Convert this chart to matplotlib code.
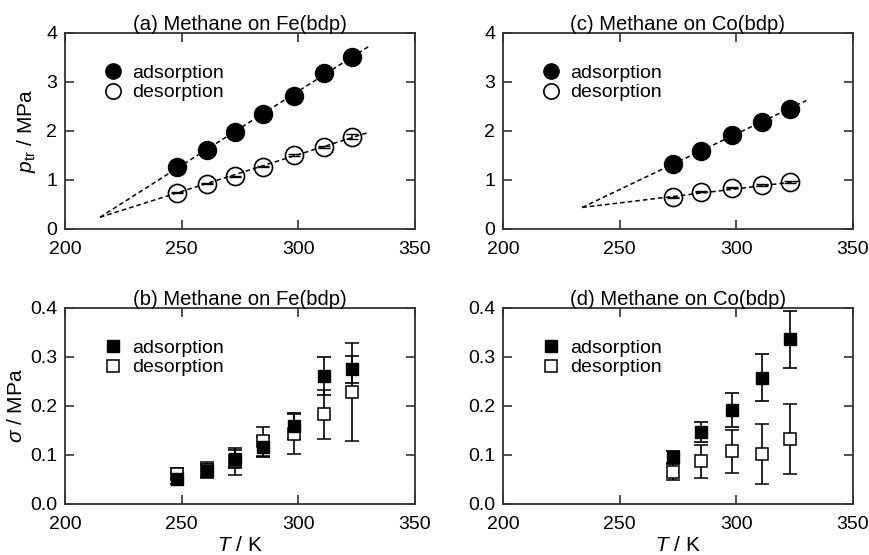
import matplotlib
matplotlib.use("Agg")
import matplotlib.pyplot as plt

plt.rcParams['font.family'] = ['Liberation Sans', 'DejaVu Sans']
plt.rcParams['mathtext.fontset'] = 'custom'
plt.rcParams['mathtext.rm'] = 'Liberation Sans'
plt.rcParams['mathtext.it'] = 'Liberation Sans:italic'
plt.rcParams['font.size'] = 14

# temperatures (K)
T_fe = [248, 261, 273, 285, 298, 311, 323]
T_co = [273, 285, 298, 311, 323]

# transition pressures (MPa)
p_fe_ads = [1.27, 1.61, 1.97, 2.35, 2.72, 3.19, 3.50]
p_fe_des = [0.74, 0.92, 1.08, 1.27, 1.51, 1.68, 1.88]
p_fe_des_err = [0.01, 0.01, 0.01, 0.01, 0.02, 0.02, 0.05]
p_co_ads = [1.33, 1.60, 1.92, 2.19, 2.45]
p_co_des = [0.65, 0.76, 0.84, 0.90, 0.95]
p_co_des_err = [0.01, 0.01, 0.01, 0.02, 0.02]

# fitted lines (endpoints)
fit_fe_T = [215, 330]
fit_fe_ads = [0.24, 3.72]
fit_fe_des = [0.24, 1.97]
fit_co_T = [234, 330]
fit_co_T_des = [234, 328]
fit_co_ads = [0.44, 2.62]
fit_co_des = [0.44, 0.98]

# standard deviations (MPa) and their error bars
s_fe_ads = [0.052, 0.068, 0.092, 0.116, 0.159, 0.261, 0.275]
s_fe_ads_err = [0.012, 0.013, 0.018, 0.020, 0.026, 0.038, 0.028]
s_fe_des = [0.062, 0.070, 0.087, 0.128, 0.143, 0.183, 0.229]
s_fe_des_err = [0.012, 0.016, 0.028, 0.030, 0.041, 0.050, 0.100]
s_co_ads = [0.095, 0.147, 0.192, 0.258, 0.336]
s_co_ads_err = [0.014, 0.020, 0.034, 0.048, 0.058]
s_co_des = [0.066, 0.087, 0.108, 0.102, 0.133]
s_co_des_err = [0.018, 0.033, 0.044, 0.061, 0.071]

titles = ['(a) Methane on Fe(bdp)', '(b) Methane on Fe(bdp)',
          '(c) Methane on Co(bdp)', '(d) Methane on Co(bdp)']

fig = plt.figure(figsize=(8.7, 5.55), dpi=100)
ax_a = fig.add_axes([0.0747, 0.5874, 0.4023, 0.3532])
ax_c = fig.add_axes([0.578, 0.5874, 0.4023, 0.3532])
ax_b = fig.add_axes([0.0747, 0.0919, 0.4023, 0.3532])
ax_d = fig.add_axes([0.578, 0.0919, 0.4023, 0.3532])

spine_col = '#333333'


def style(ax, title, top):
    ax.set_xlim(200, 350)
    ax.set_xticks([200, 250, 300, 350])
    if top:
        ax.set_ylim(0, 4)
        ax.set_yticks([0, 1, 2, 3, 4])
        ax.set_yticklabels(['0', '1', '2', '3', '4'])
    else:
        ax.set_ylim(0, 0.4)
        ax.set_yticks([0, 0.1, 0.2, 0.3, 0.4])
        ax.set_yticklabels(['0.0', '0.1', '0.2', '0.3', '0.4'])
    ax.tick_params(direction='in', top=True, right=True, length=6.5,
                   width=1.2, color=spine_col, labelsize=14)
    ax.tick_params(axis='y', pad=5.5)
    ax.tick_params(axis='x', pad=9)
    for s in ax.spines.values():
        s.set_linewidth(1.3)
        s.set_color(spine_col)
    ax.set_title(title, fontsize=14.6, pad=2)


def add_legend(ax, h1, h2):
    ax.legend([h1, h2], ['adsorption', 'desorption'], loc='upper left',
              bbox_to_anchor=(0.082, 0.89), frameon=False,
              handletextpad=0.5, labelspacing=0.1, fontsize=14,
              handlelength=1.0, borderpad=0)


def top_panel(ax, T, ads, des, des_err, fT, fTd, fa, fd, title):
    ax.plot(fT, fa, ls=(0, (3, 2)), color='black', lw=1.1)
    ax.plot(fTd, fd, ls=(0, (3, 2)), color='black', lw=1.1)
    ax.plot(T, ads, 'o', color='black', ms=13)
    ax.errorbar(T, des, yerr=des_err, fmt='none', ecolor='black',
                elinewidth=1.1, capsize=4)
    ax.plot(T, des, 'o', mfc='none', mec='black', ms=13, mew=1.2)
    style(ax, title, True)
    add_legend(ax, ax.plot([], [], 'o', color='black', ms=11)[0],
               ax.plot([], [], 'o', mfc='white', mec='black', ms=11, mew=1.2)[0])


def bottom_panel(ax, T, ads, ads_err, des, des_err, title):
    ax.errorbar(T, des, yerr=des_err, fmt='s', mfc='white', mec='black',
                ms=8, mew=1.1, ecolor='black', elinewidth=1.2, capsize=5,
                capthick=1.2)
    ax.errorbar(T, ads, yerr=ads_err, fmt='s', color='black', ms=8,
                ecolor='black', elinewidth=1.2, capsize=5, capthick=1.2)
    style(ax, title, False)
    add_legend(ax, ax.plot([], [], 's', color='black', ms=8)[0],
               ax.plot([], [], 's', mfc='white', mec='black', ms=8, mew=1.1)[0])
    ax.set_xlabel(r'$T$ / K', fontsize=15, labelpad=2)


top_panel(ax_a, T_fe, p_fe_ads, p_fe_des, p_fe_des_err,
          fit_fe_T, fit_fe_T, fit_fe_ads, fit_fe_des, titles[0])
top_panel(ax_c, T_co, p_co_ads, p_co_des, p_co_des_err,
          fit_co_T, fit_co_T_des, fit_co_ads, fit_co_des, titles[2])
bottom_panel(ax_b, T_fe, s_fe_ads, s_fe_ads_err, s_fe_des, s_fe_des_err, titles[1])
bottom_panel(ax_d, T_co, s_co_ads, s_co_ads_err, s_co_des, s_co_des_err, titles[3])

ax_a.set_ylabel(r'$p_{\mathrm{tr}}$ / MPa', fontsize=15, labelpad=6)
ax_b.set_ylabel(r'$\sigma$ / MPa', fontsize=15, labelpad=3)

fig.savefig('out.png', dpi=100)
